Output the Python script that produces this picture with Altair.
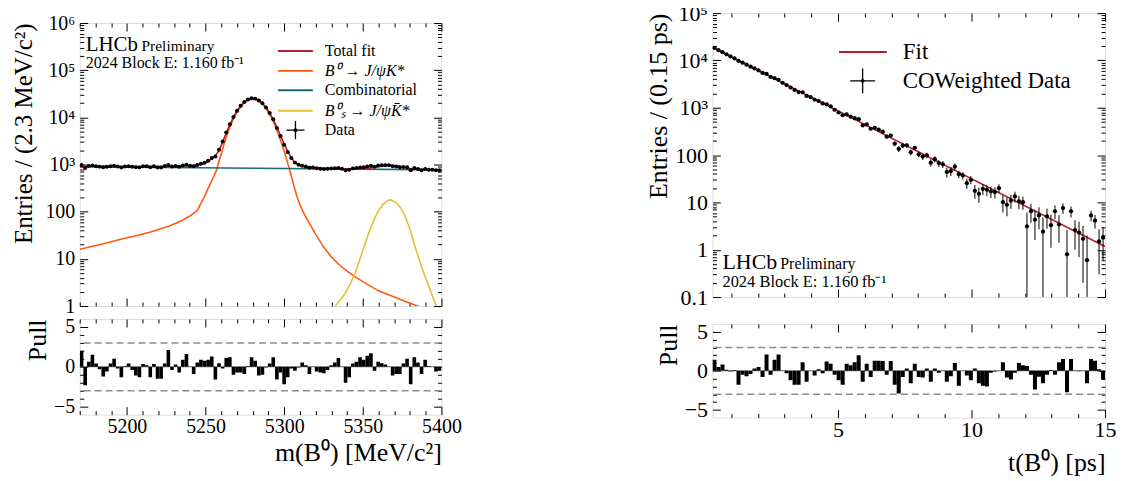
import altair as alt
import numpy as np
import pandas as pd

FONT = "Liberation Serif"
RED, ORANGE, TEAL, YELLOW = "#b51f2e", "#ff5a0f", "#1b6977", "#e5be35"
GREY = "#8c8c8c"

# ---------------- left: B0 mass fit ----------------
mass_range = [5170.0, 5400.0]
mass_bin_width = 2.3
mass_counts = [977, 843, 933, 960, 925, 903, 875, 893, 924, 942,
               904, 870, 912, 922, 898, 877, 871, 922, 917, 872,
               923, 867, 867, 928, 982, 907, 930, 902, 957, 985,
               942, 924, 981, 1037, 1095, 1205, 1370, 1480, 2070, 3089,
               4776, 7147, 10194, 13877, 17607, 21069, 23915, 25341, 24969, 22863,
               19819, 16187, 12444, 9114, 5975, 4025, 2633, 1834, 1383, 1098,
               991, 947, 904, 850, 861, 831, 811, 802, 810, 825,
               832, 846, 813, 756, 777, 829, 842, 867, 872, 906,
               939, 896, 954, 965, 969, 961, 917, 904, 877, 888,
               878, 760, 840, 808, 759, 806, 779, 774, 756, 758]
mass_pulls = [2.0, -2.3, 0.65, 1.5, 0.4, -0.3, -1.2, -0.6, 0.4, 1.0,
              -0.2, -1.3, 0.1, 0.4, -0.4, -1.1, -1.3, 0.35, 0.2, -1.3,
              0.35, -1.5, -1.5, 0.4, 2.1, -0.4, 0.3, -0.7, 0.9, 1.6,
              0.05, -0.9, 0.55, 0.9, 0.75, 0.9, 1.3, -1.6, 0.45, -0.2,
              1.1, 1.2, -1.0, -0.7, -0.7, -0.9, 0.1, 1.2, 0.75, -1.1,
              -1.0, -0.1, 0.4, 1.2, -1.6, -0.7, -2.2, -1.3, -0.2, -0.5,
              -0.1, 0.55, 0.2, -0.9, 0.05, -0.6, -0.7, -0.8, -0.4, 0.2,
              0.55, 1.1, 0.05, -2.0, -1.3, 0.4, 0.65, 1.2, 0.9, 1.4,
              1.7, -0.5, 0.65, 0.45, 0.3, 0.05, -1.1, -0.9, -0.9, 0.4,
              1.0, -2.2, 1.2, 0.55, -0.9, 0.9, 0.1, 0.05, -0.6, -0.5]

tot_mass = [5170, 5185, 5200, 5215, 5227, 5235, 5240, 5245, 5248, 5250,
            5252, 5254, 5256, 5258, 5260, 5262, 5264, 5266, 5268, 5270,
            5272, 5274, 5276, 5278, 5280, 5282, 5284, 5286, 5288, 5290,
            5292, 5294, 5296, 5298, 5300, 5302, 5304, 5306, 5308, 5310,
            5312, 5316, 5320, 5325, 5330, 5333, 5336, 5339, 5342, 5345,
            5348, 5351, 5354, 5357, 5360, 5363, 5366, 5367, 5368, 5371,
            5374, 5377, 5380, 5383, 5386, 5389, 5392, 5395, 5398, 5400]
tot_vals = [916, 913, 911, 912, 918, 928, 941, 968, 1031, 1095,
            1189, 1323, 1501, 1850, 2549, 3748, 5447, 7646, 10675, 13804,
            17063, 20272, 22941, 24710, 25339, 24708, 22937, 20266, 17055, 13693,
            10512, 7741, 5530, 3869, 2748, 1967, 1486, 1195, 1039, 963,
            922, 877, 848, 830, 822, 818, 815, 812, 812, 810,
            812, 820, 836, 864, 900, 938, 965, 969, 966, 946,
            908, 864, 825, 800, 789, 782, 778, 775, 773, 771]
b0_mass = [5170, 5185, 5200, 5206, 5215, 5227, 5235, 5240, 5243, 5245,
           5247, 5249, 5251, 5253, 5255, 5257, 5258, 5260, 5262, 5264,
           5266, 5268, 5270, 5272, 5274, 5276, 5278, 5280, 5282, 5284,
           5286, 5288, 5290, 5292, 5294, 5296, 5298, 5300, 5302, 5304,
           5306, 5308, 5310, 5312, 5314, 5316, 5320, 5325, 5330, 5335,
           5340, 5345, 5350, 5360, 5370, 5380, 5385, 5390, 5400]
b0_vals = [16, 21, 28, 31, 37, 50, 65, 81, 95, 110,
           150, 200, 280, 390, 550, 760, 1000, 1700, 2900, 4600,
           6800, 9830, 12960, 16220, 19430, 22100, 23870, 24500, 23870, 22100,
           19430, 16220, 12860, 9680, 6910, 4700, 3040, 1920, 1140, 660,
           370, 215, 140, 100, 75, 57, 33, 18, 11, 7.5,
           5.5, 4.2, 3.3, 2.1, 1.55, 1.15, 1.0, 0.88, 0.7]
comb_mass = [5170, 5400]
comb_vals = [900, 770]
bs_mass = [5330, 5333, 5336, 5339, 5342, 5345, 5348, 5351, 5354, 5357,
           5360, 5363, 5366, 5367, 5368, 5371, 5374, 5377, 5380, 5383,
           5386, 5389, 5392, 5395, 5398]
bs_vals = [0.75, 1.05, 1.4, 1.9, 3.0, 4.9, 9.5, 19, 37, 67,
           105, 145, 174, 178, 176, 158, 122, 80, 42, 19,
           9.5, 4.8, 2.6, 1.4, 0.8]

comp_labels = ["Total fit", "B\u2070 \u2192 J/\u03c8K*", "Combinatorial",
               "B\u2070\u209b \u2192 J/\u03c8K\u0304*", "Data"]
comp_styles = ["normal", "italic", "normal", "italic", "normal"]
comp_colors = [RED, ORANGE, TEAL, YELLOW]

# ---------------- right: decay time fit ----------------
time_range = [0.3, 15.0]
time_bin_width = 0.15
time_counts = [18337, 16464, 14965, 13436, 12169, 11022, 9740, 8978, 8105, 7372,
               6752, 6138, 5432, 5192, 4477, 4216, 3882, 3360, 3021, 2671,
               2376, 2146, 2115, 1774, 1680, 1490, 1388, 1234, 1185, 1063,
               907, 793, 694, 721, 648, 601, 574, 423, 445, 360,
               378, 343, 312, 245, 258, 174, 135, 158, 161, 115,
               142, 104, 93, 99, 69, 82, 68, 64, 44, 46,
               57, 39.5, 37, 25.5, 30, 17.6, 15.2, 19.4, 18.5, 17,
               16.5, 20, 10.1, 8.9, 10.9, 13.4, 10.5, 10.1, 3.1, 6.5,
               4.3, 5.3, 2.4, 5.1, 3.3, 6.5, 3.4, 7.6, 0.8, 6.5,
               2.6, 2.3, 1.7, 0.6, 5.3, 4.1, 1.5, 1.8]
time_errors = [182, 173, 164, 156, 149, 142, 135, 128, 122, 116,
               111, 105, 100, 95, 91, 86, 82, 78, 74, 71,
               67, 64, 61, 58, 55, 53, 50, 48, 45, 43,
               41, 39, 37, 35, 34, 32, 31, 29, 28, 26,
               25, 24, 23, 22, 21, 20, 19, 18, 17, 16,
               15, 14.5, 13.8, 13.2, 12.5, 11.9, 11.4, 10.8, 10.3, 9.8,
               9.3, 6.9, 6.6, 6.2, 5.9, 5.7, 5.4, 5.1, 4.9, 4.6,
               4.4, 4.2, 4.0, 3.8, 3.6, 3.5, 3.3, 3.1, 3.0, 2.8,
               2.7, 2.6, 2.4, 2.3, 2.2, 2.1, 2.0, 1.9, 1.8, 1.7,
               1.6, 1.6, 1.5, 1.4, 1.35, 1.3, 1.2, 1.2]
time_pulls = [1.4, 0.5, 0.8, 0.15, -0.1, 0.1, -1.8, -0.5, -0.7, -0.4,
              0.3, 0.5, -0.8, 2.1, -0.5, 1.4, 2.1, 0.05, -0.3, -1.2,
              -1.8, -1.8, 1.1, -1.4, 0.05, -0.6, 0.2, -0.3, 1.2, 0.9,
              -0.5, -1.2, -1.8, 0.9, 0.7, 1.1, 2.0, -1.4, 0.9, -0.8,
              1.3, 1.3, 1.25, -0.5, 1.25, -1.8, -2.9, -0.8, 0.3, -1.6,
              0.9, -0.8, -0.85, 0.3, -1.4, 0.3, -0.25, 0.05, -1.4, -0.7,
              1.0, -1.9, 0.05, -0.6, -1.2, 0.3, -1.6, -1.9, -2.0, -0.25,
              -0.1, 0.05, 1.1, -0.85, -1.1, -0.25, 1.0, 0.7, 0.6, -0.5,
              -2.4, -0.75, -1.6, -0.5, 0.1, -0.5, 1.1, 1.5, -2.75, 1.5,
              0.05, -0.05, 0.05, -1.6, 1.5, 1.3, 0.2, -1.1]
fit_time = [0.3, 15.0]
fit_vals = [19000, 1.17]
right_legend_labels = ["Fit", "COWeighted Data"]

pull_refs = [3, -3]
pull_zero = [0]

# axis tick values and labels
mass_major = [5200, 5250, 5300, 5350, 5400]
mass_minor = [5170, 5180, 5190, 5210, 5220, 5230, 5240, 5260, 5270, 5280,
              5290, 5310, 5320, 5330, 5340, 5360, 5370, 5380, 5390]
time_major = [5, 10, 15]
time_minor = [1, 2, 3, 4, 6, 7, 8, 9, 11, 12, 13, 14]
pull_major = [-5, 0, 5]
pull_minor = [-4, -3, -2, -1, 1, 2, 3, 4]
mass_decades = [1, 10, 100, 1e3, 1e4, 1e5, 1e6]
time_decades = [0.1, 1, 10, 100, 1e3, 1e4, 1e5]
minor_mult = [2, 3, 4, 5, 6, 7, 8, 9]
superscripts = ["", "", "", "\u00b3", "\u2074", "\u2075", "\u2076"]

ann_lhcb = ["LHCb", "Preliminary", "2024 Block E: 1.160\u2009fb\u207b\u00b9"]
mass_xtitle = "m(B\u2070) [MeV/c\u00b2]"
mass_ytitle = "Entries / (2.3 MeV/c\u00b2)"
time_xtitle = "t(B\u2070) [ps]"
time_ytitle = "Entries / (0.15 ps)"

CROSS = "M-1,0H1M0,-1V1"

# ---------------- data frames ----------------
nm = len(mass_counts)
m_lo = mass_range[0] + mass_bin_width * np.arange(nm)
m_hi = m_lo + mass_bin_width
mc = np.array(mass_counts, float)
merr = np.sqrt(mc)
mass_df = pd.DataFrame(dict(x=(m_lo + m_hi) / 2, lo=m_lo, hi=m_hi, n=mc,
                            ylo=mc - merr, yhi=mc + merr, pull=mass_pulls))

curves = []
for lab, xs_, vs_ in [(comp_labels[1], b0_mass, b0_vals),
                      (comp_labels[2], comb_mass, comb_vals),
                      (comp_labels[3], bs_mass, bs_vals)]:
    curves.append(pd.DataFrame(dict(x=xs_, v=vs_, comp=lab)))
comp_df = pd.concat(curves, ignore_index=True)
tot_df = pd.DataFrame(dict(x=tot_mass, v=tot_vals, comp=comp_labels[0]))

nt = len(time_counts)
t_lo = time_range[0] + time_bin_width * np.arange(nt)
t_hi = t_lo + time_bin_width
tc = np.array(time_counts, float)
te = np.array(time_errors, float)
time_df = pd.DataFrame(dict(x=(t_lo + t_hi) / 2, lo=t_lo, hi=t_hi, n=tc,
                            ylo=np.maximum(tc - te, 0.01), yhi=tc + te,
                            pull=time_pulls))
fit_df = pd.DataFrame(dict(x=fit_time, v=fit_vals))


def log_minor(decades):
    return [d * k for d in decades[:-1] for k in minor_mult]


LOG_EXPR = ("datum.value >= 1000 ? '10' + " + str(superscripts) +
            "[round(log(datum.value)/LN10)] : (datum.value >= 1 ? "
            "format(datum.value, 'd') : format(datum.value, '.1f'))")


def mk_axis(orient, vals, major, lab_size, title_size, labels=False, title=None,
            expr=None, tpad=8, lpad=4, fmt=None):
    size = 8 if major else 4
    kw = dict(orient=orient, values=list(vals), offset=-size, tickSize=size,
              tickColor="black", tickWidth=1, domain=False, grid=False,
              labels=labels, labelFlush=False, labelOverlap=False,
              labelFont=FONT, labelFontSize=lab_size, labelColor="black",
              labelPadding=lpad, titleFont=FONT, titleFontSize=title_size,
              titleFontWeight="normal", titleColor="black", titleAnchor="end",
              titlePadding=tpad, title=title)
    if expr:
        kw["labelExpr"] = expr
    if fmt:
        kw["format"] = fmt
    return alt.Axis(**kw)


def frame_layers(df, yf, xs, ys, xmaj, xmin, ymaj, ymin, lab_size, title_size,
                 xlabels, xtitle, ytitle, yexpr=None, ytpad=3, xtpad=5):
    base = alt.Chart(df).mark_point(opacity=0)
    a = base.encode(
        x=alt.X("x:Q", scale=xs, axis=mk_axis("bottom", xmaj, True, lab_size, title_size,
                                               labels=xlabels, title=xtitle, tpad=xtpad,
                                               lpad=2, fmt="d")),
        y=alt.Y(yf, scale=ys, axis=mk_axis("left", ymaj, True, lab_size, title_size,
                                            labels=True, title=ytitle, expr=yexpr,
                                            tpad=ytpad, lpad=5)))
    b = base.encode(
        x=alt.X("x:Q", scale=xs, axis=mk_axis("bottom", xmin, False, lab_size, title_size)),
        y=alt.Y(yf, scale=ys, axis=mk_axis("left", ymin, False, lab_size, title_size)))
    c = base.encode(
        x=alt.X("x:Q", scale=xs, axis=mk_axis("top", xmaj, True, lab_size, title_size)),
        y=alt.Y(yf, scale=ys, axis=mk_axis("right", ymaj, True, lab_size, title_size)))
    d = base.encode(
        x=alt.X("x:Q", scale=xs, axis=mk_axis("top", xmin, False, lab_size, title_size)),
        y=alt.Y(yf, scale=ys, axis=mk_axis("right", ymin, False, lab_size, title_size)))
    return [a, b, c, d]


def data_layers(df, xs, ys, size):
    vbar = alt.Chart(df).mark_rule(color="black", strokeWidth=1, clip=True).encode(
        x=alt.X("x:Q", scale=xs, axis=None), y=alt.Y("ylo:Q", scale=ys, axis=None),
        y2="yhi:Q")
    hbar = alt.Chart(df).mark_rule(color="black", strokeWidth=1, clip=True).encode(
        x=alt.X("lo:Q", scale=xs, axis=None), x2="hi:Q",
        y=alt.Y("n:Q", scale=ys, axis=None))
    pts = alt.Chart(df).mark_circle(color="black", opacity=1, size=size, clip=True).encode(
        x=alt.X("x:Q", scale=xs, axis=None), y=alt.Y("n:Q", scale=ys, axis=None))
    return [vbar, hbar, pts]


ONE = pd.DataFrame({"t": [""]})


def text_layer(txt, px, py, fs, baseline="alphabetic", style="normal"):
    return alt.Chart(pd.DataFrame({"t": [txt]})).mark_text(
        align="left", baseline=baseline, font=FONT, color="black", fontSize=fs,
        fontStyle=style
    ).encode(text="t:N", x=alt.value(px), y=alt.value(py))


def legend_line(color, x1, x2, y):
    return alt.Chart(ONE).mark_rule(color=color, strokeWidth=2).encode(
        x=alt.value(x1), x2=alt.value(x2), y=alt.value(y))


def legend_cross(cx, cy, size):
    cross = alt.Chart(ONE).mark_point(shape=CROSS, size=size, color="black", filled=False,
                                      strokeWidth=1.3, opacity=1).encode(
        x=alt.value(cx), y=alt.value(cy))
    dot = alt.Chart(ONE).mark_circle(size=14, color="black", opacity=1).encode(
        x=alt.value(cx), y=alt.value(cy))
    return [cross, dot]


def pull_layers(df, xs, ps):
    bars = alt.Chart(df).mark_bar(color="black", clip=True).encode(
        x=alt.X("lo:Q", scale=xs, axis=None), x2="hi:Q",
        y=alt.Y("pull:Q", scale=ps, axis=None), y2=alt.datum(0))
    zero = alt.Chart(pd.DataFrame({"p": pull_zero})).mark_rule(
        color=GREY, strokeWidth=1).encode(y=alt.Y("p:Q", scale=ps, axis=None))
    refs = alt.Chart(pd.DataFrame({"p": pull_refs})).mark_rule(
        color=GREY, strokeWidth=1.5, strokeDash=[7, 4]).encode(
        y=alt.Y("p:Q", scale=ps, axis=None))
    return [zero, refs, bars]


# ---------------- left top ----------------
xs_m = alt.Scale(domain=mass_range, nice=False, zero=False)
ys_m = alt.Scale(type="log", domain=[1, 1e6], nice=False)
ps = alt.Scale(domain=[-6, 6], nice=False, zero=False)
LS, TS = 20, 25

color_scale = alt.Scale(domain=comp_labels[:4], range=comp_colors)
comp_lines = alt.Chart(comp_df).mark_line(strokeWidth=1.6, clip=True).encode(
    x=alt.X("x:Q", scale=xs_m, axis=None), y=alt.Y("v:Q", scale=ys_m, axis=None),
    color=alt.Color("comp:N", scale=color_scale, legend=None))
tot_line = alt.Chart(tot_df).mark_line(strokeWidth=1.6, clip=True, color=RED).encode(
    x=alt.X("x:Q", scale=xs_m, axis=None), y=alt.Y("v:Q", scale=ys_m, axis=None))

left_rows = [28, 48, 67.5, 88]
left_legend = []
for lab, col, yy, st in zip(comp_labels[:4], comp_colors, left_rows, comp_styles):
    left_legend.append(legend_line(col, 199, 234, yy))
    left_legend.append(text_layer(lab, 246, yy, 16, "middle", st))
left_legend += legend_cross(216.5, 107.5, 330)
left_legend.append(text_layer(comp_labels[4], 246, 107.5, 16, "middle"))

left_top = alt.layer(
    *frame_layers(mass_df, "n:Q", xs_m, ys_m, mass_major, mass_minor, mass_decades,
                  log_minor(mass_decades), LS, TS, False, None, mass_ytitle, LOG_EXPR,
                  ytpad=8),
    comp_lines, tot_line,
    *data_layers(mass_df, xs_m, ys_m, 16),
    *left_legend,
    text_layer(ann_lhcb[0], 6, 28, 21),
    text_layer(ann_lhcb[1], 62, 28, 15.5),
    text_layer(ann_lhcb[2], 6, 45, 16),
).resolve_axis(x="independent", y="independent").properties(width=363, height=284)

left_pull = alt.layer(
    *frame_layers(mass_df, "pull:Q", xs_m, ps, mass_major, mass_minor, pull_major,
                  pull_minor, LS, TS + 1, True, mass_xtitle, "Pull", xtpad=3),
    *pull_layers(mass_df, xs_m, ps),
).resolve_axis(x="independent", y="independent").properties(width=363, height=96)

# ---------------- right top ----------------
xs_t = alt.Scale(domain=time_range, nice=False, zero=False)
ys_t = alt.Scale(type="log", domain=[0.1, 1e5], nice=False)
RLS, RTS = 22, 26

fit_line = alt.Chart(fit_df).mark_line(strokeWidth=1.6, clip=True, color=RED).encode(
    x=alt.X("x:Q", scale=xs_t, axis=None), y=alt.Y("v:Q", scale=ys_t, axis=None))

right_legend = [legend_line(RED, 127, 175, 39),
                text_layer(right_legend_labels[0], 191, 39, 23, "middle"),
                *legend_cross(150.7, 68, 625),
                text_layer(right_legend_labels[1], 191, 68, 23, "middle")]

right_top = alt.layer(
    *frame_layers(time_df, "n:Q", xs_t, ys_t, time_major, time_minor, time_decades,
                  log_minor(time_decades), RLS, RTS, False, None, time_ytitle, LOG_EXPR),
    fit_line,
    *data_layers(time_df, xs_t, ys_t, 18),
    *right_legend,
    text_layer(ann_lhcb[0], 10, 257, 22),
    text_layer(ann_lhcb[1], 68, 257, 16),
    text_layer(ann_lhcb[2], 10, 275, 16.5),
).resolve_axis(x="independent", y="independent").properties(width=394, height=285)

right_pull = alt.layer(
    *frame_layers(time_df, "pull:Q", xs_t, ps, time_major, time_minor, pull_major,
                  pull_minor, RLS, RTS, True, time_xtitle, "Pull", xtpad=9),
    *pull_layers(time_df, xs_t, ps),
).resolve_axis(x="independent", y="independent").properties(width=394, height=94)

left = alt.vconcat(left_top, left_pull, spacing=13, bounds="flush")
right = alt.vconcat(right_top, right_pull, spacing=27, bounds="flush")

chart = alt.hconcat(left, right, spacing=183, center=True).properties(
    padding={"left": 3, "top": -8, "right": 5, "bottom": 5}
).configure_view(stroke="black", strokeWidth=1).configure(font=FONT, background="white")

chart.save("out.html", embed_options={"renderer": "svg", "actions": False})
